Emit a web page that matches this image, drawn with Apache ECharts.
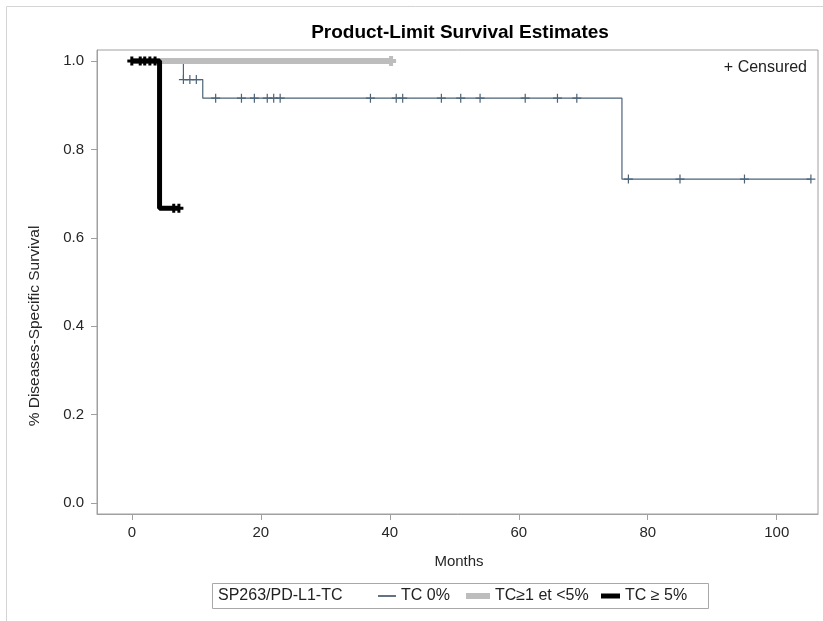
<!DOCTYPE html>
<html><head><meta charset="utf-8">
<script src="https://cdn.jsdelivr.net/npm/echarts@6/dist/echarts.min.js"></script>
<style>html,body{margin:0;padding:0;background:#fff}#c{width:823px;height:621px}</style>
</head><body><div id="c"></div>
<script>
// ---- data ----
const titleText = 'Product-Limit Survival Estimates';
const xAxisName = 'Months';
const yAxisName = '% Diseases-Specific Survival';
const legendTitle = 'SP263/PD-L1-TC';
const groupNames = ['TC 0%', 'TC≥1 et <5%', 'TC ≥ 5%'];
const xTicks = [0, 20, 40, 60, 80, 100];
const yTicks = [0, 0.2, 0.4, 0.6, 0.8, 1.0];
// Kaplan-Meier step curves: [months, survival]
const curveTC0 = [[0, 1], [8, 0.958], [11, 0.916], [76, 0.733], [105.3, 0.733]];
const curveTC1 = [[0, 1], [40.2, 1]];
const curveTC5 = [[0, 1], [4.3, 0.667], [7.4, 0.667]];
// censored observations
const censTC0 = [[8, 0.958], [9, 0.958], [10, 0.958],
  [13, 0.916], [17, 0.916], [19, 0.916], [21, 0.916], [22, 0.916], [23, 0.916],
  [37, 0.916], [41, 0.916], [42, 0.916], [48, 0.916], [51, 0.916], [54, 0.916],
  [61, 0.916], [66, 0.916], [69, 0.916],
  [77, 0.733], [85, 0.733], [95, 0.733], [105.3, 0.733]];
const censTC1 = [[40.2, 1]];
const censTC5 = [[0, 1], [1.3, 1], [2, 1], [2.8, 1], [3.6, 1], [6.5, 0.667], [7.3, 0.667]];

// ---- styles ----
const colTC0 = '#4b6378', colTC1 = '#bdbdbd', colTC5 = '#000000';
const axisCol = '#a0a0a0', txtCol = '#262626';
const FONT = 'Liberation Sans, Arial, sans-serif';
const plus = 'path://M5,0L5,10M0,5L10,5';

const chart = echarts.init(document.getElementById('c'), null, {renderer: 'canvas'});
function stepLine(name, data, color, width, z) {
  return {name, type: 'line', step: 'end', data, symbol: 'none', z,
    color, lineStyle: {color, width}, itemStyle: {color}, animation: false, silent: true};
}
function cens(data, color, size, bw, z) {
  return {type: 'scatter', data, symbol: plus, symbolSize: size, z, animation: false, silent: true,
    itemStyle: {color: 'rgba(0,0,0,0)', borderColor: color, borderWidth: bw, opacity: 1}};
}
const legendBase = {orient: 'horizontal', icon: 'rect', selectedMode: false, itemGap: 0, padding: 0, top: 588,
  textStyle: {fontFamily: FONT, fontSize: 16, color: '#222'}};
chart.setOption({
  backgroundColor: '#fff',
  animation: false,
  title: {text: titleText, left: 460, top: 23, textAlign: 'center', padding: 0,
    textStyle: {fontFamily: FONT, fontSize: 19, fontWeight: 'bold', color: '#000'}},
  grid: {left: 97, right: 5, top: 50, bottom: 107, show: true, borderColor: axisCol, borderWidth: 1},
  xAxis: {type: 'value', min: -5.4, max: 106.4,
    axisLine: {show: true, onZero: false, lineStyle: {color: axisCol}},
    axisTick: {show: true, length: 6, lineStyle: {color: axisCol}, customValues: xTicks},
    axisLabel: {customValues: xTicks, margin: 11, color: txtCol, fontFamily: FONT, fontSize: 15},
    splitLine: {show: false}},
  yAxis: {type: 'value', min: -0.025, max: 1.025,
    axisLine: {show: true, onZero: false, lineStyle: {color: axisCol}},
    axisTick: {show: true, length: 6, lineStyle: {color: axisCol}, customValues: yTicks},
    axisLabel: {customValues: yTicks, margin: 13, color: txtCol, fontFamily: FONT, fontSize: 15,
      formatter: v => v.toFixed(1)},
    splitLine: {show: false}},
  legend: [
    Object.assign({}, legendBase, {data: [{name: groupNames[0], itemStyle: {color: '#2f4457'}}], left: 378, itemWidth: 18, itemHeight: 1.5}),
    Object.assign({}, legendBase, {data: [groupNames[1]], left: 466, itemWidth: 24, itemHeight: 6}),
    Object.assign({}, legendBase, {data: [groupNames[2]], left: 601, itemWidth: 19, itemHeight: 5})
  ],
  graphic: [
    {type: 'rect', shape: {x: 6.5, y: 6.5, width: 830, height: 640}, style: {fill: 'none', stroke: '#d4d4d4', lineWidth: 1}, silent: true},
    {type: 'rect', shape: {x: 212.5, y: 583.5, width: 496, height: 25}, style: {fill: 'none', stroke: '#a8a8a8', lineWidth: 1}, silent: true},
    {type: 'text', x: 218, y: 596, style: {text: legendTitle, font: '16px ' + FONT, fill: '#222', verticalAlign: 'middle'}},
    {type: 'text', x: 807, y: 68, style: {text: '+ Censured', font: '16px ' + FONT, fill: '#222', align: 'right', verticalAlign: 'middle'}},
    {type: 'text', x: 459, y: 562, style: {text: xAxisName, font: '15px ' + FONT, fill: txtCol, align: 'center', verticalAlign: 'middle'}},
    {type: 'text', x: 35, y: 326, rotation: Math.PI / 2, style: {text: yAxisName, font: '15.5px ' + FONT, fill: txtCol, align: 'center', verticalAlign: 'middle'}}
  ],
  series: [
    stepLine(groupNames[0], curveTC0, colTC0, 1.2, 2),
    stepLine(groupNames[1], curveTC1, colTC1, 6, 3),
    stepLine(groupNames[2], curveTC5, colTC5, 5, 4),
    cens(censTC0, colTC0, 9, 1.2, 2),
    cens(censTC1, colTC1, 10, 4, 3),
    cens(censTC5, colTC5, 9, 3, 5)
  ]
});
</script></body></html>
